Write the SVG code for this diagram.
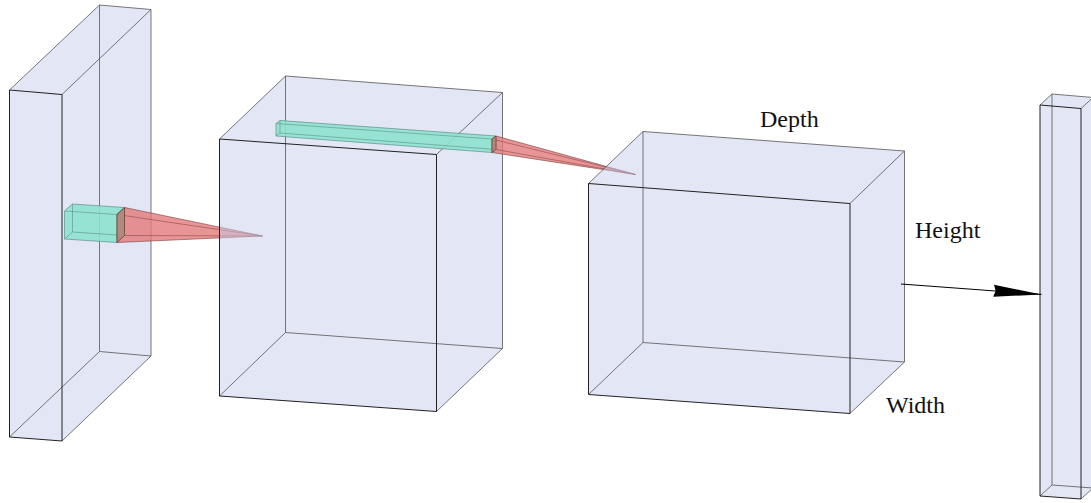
<svg xmlns="http://www.w3.org/2000/svg" width="1091" height="503" viewBox="0 0 1091 503">
<style>
.box{fill:#c8ceeb;fill-opacity:0.5;stroke:none}
.fe{fill:none;stroke:#222;stroke-width:1}
.be{fill:none;stroke:#555;stroke-width:0.8}
.teal{fill:#8ee2cf;fill-opacity:0.9;stroke:#5a8f88;stroke-width:0.7}
.tl{fill:none;stroke:#5a8f88;stroke-width:0.6}
.red{fill:#e47a7a;fill-opacity:0.8;stroke:#7a3a3a;stroke-width:0.6}
.cap{fill:#b08a7c;stroke:#5a3a32;stroke-width:0.7}
.rl{fill:none;stroke:#7a3a3a;stroke-width:0.5}
.lbl{font-family:"Liberation Serif","DejaVu Serif",serif;font-size:24px;fill:#111}
</style>
<defs>
<marker id="ah" markerUnits="userSpaceOnUse" markerWidth="60" markerHeight="20" viewBox="-50 -10 60 20" refX="0" refY="0" orient="auto">
<path d="M0,0 L-48,-6 L-46,0 L-48,6 Z" fill="#000"/>
</marker>
</defs>

<g id="slab1">
<polygon class="box" points="9.5,90 99.5,5 151,9.5 151,356 62,441 9.5,437"/>
<path class="be" d="M99.5,5 L151,9.5 L151,356 L99.5,351.5 Z M9.5,90 L99.5,5 M62,94.5 L151,9.5 M62,441 L151,356 M9.5,437 L99.5,351.5"/>
<path class="fe" d="M9.5,90 L62,94.5 L62,441 L9.5,437 Z"/>
</g>

<g id="kernel1">
<polygon class="teal" points="64.5,211 72.5,204 124.5,207.5 124.5,235.5 117,242.5 64.5,239"/>
<path class="tl" d="M72.5,204 L72.5,232 L124.5,235.5 M72.5,232 L64.5,239 M64.5,211 L117,214.5 L124.5,207.5"/>
<polygon class="red" points="117,214.5 124.5,207.5 262.5,236 117,242.5"/>
<path class="rl" d="M117,214.5 L262.5,236 M124.5,235.5 L262.5,236"/>
<polygon class="cap" points="117,214.5 124.5,207.5 124.5,235.5 117,242.5"/>
</g>

<g id="box2">
<polygon class="box" points="219.5,139 285.5,76 502.5,92.5 502.5,348.5 436.5,411.5 219.5,396"/>
<path class="be" d="M285.5,76 L502.5,92.5 L502.5,348.5 L285.5,332.5 Z M219.5,139 L285.5,76 M436.5,154.5 L502.5,92.5 M436.5,411.5 L502.5,348.5 M219.5,396 L285.5,332.5"/>
<path class="fe" d="M219.5,139 L436.5,154.5 L436.5,411.5 L219.5,396 Z"/>
</g>

<g id="kernel2">
<polygon class="teal" points="276,123.5 280,120.5 496,136 496,149.5 492,152.5 276,136"/>
<path class="tl" d="M276,123.5 L492,139 L496,136 M280,120.5 L280,133 L496,149.5 M280,133 L276,136"/>
<polygon class="red" points="492,139 496,136 635.5,174.5 492,152.5"/>
<path class="rl" d="M492,139 L635.5,174.5 M496,149.5 L635.5,174.5"/>
<polygon class="cap" points="492,139 496,136 496,149.5 492,152.5"/>
</g>

<g id="box3">
<polygon class="box" points="588.5,183.5 643,131.5 904.5,151 904.5,362 850,413.5 588.5,394.5"/>
<path class="be" d="M643,131.5 L904.5,151 L904.5,362 L643,342.5 Z M588.5,183.5 L643,131.5 M850,203.5 L904.5,151 M850,413.5 L904.5,362 M588.5,394.5 L643,342.5"/>
<path class="fe" d="M588.5,183.5 L850,203.5 L850,413.5 L588.5,394.5 Z"/>
</g>

<g id="slab4">
<polygon class="box" points="1040,105 1052,94 1093,97.5 1093,488 1081,499 1040,496"/>
<path class="be" d="M1052,94 L1093,97.5 L1093,488 L1052,485 Z M1040,105 L1052,94 M1081,108.5 L1093,97.5 M1081,499 L1093,488 M1040,496 L1052,485"/>
<path class="fe" d="M1040,105 L1081,108.5 L1081,499 L1040,496 Z"/>
</g>

<g id="connectors">
<line x1="901" y1="284" x2="1041.5" y2="294.4" stroke="#000" stroke-width="1" marker-end="url(#ah)"/>
</g>

<g id="labels">
<text class="lbl" x="760" y="127">Depth</text>
<text class="lbl" x="915" y="238">Height</text>
<text class="lbl" x="886" y="413">Width</text>
</g>
</svg>
